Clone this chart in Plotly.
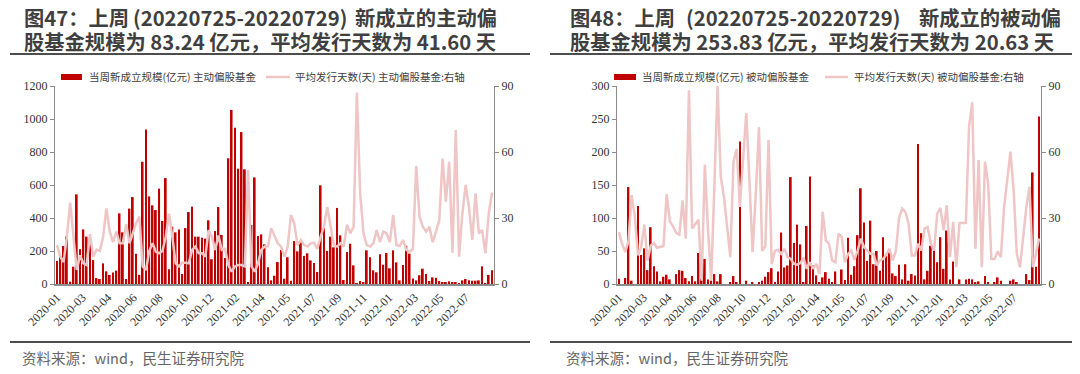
import numpy as np
import plotly.graph_objects as go

# ---------------- data ----------------
tick_labels = ["2020-01", "2020-03", "2020-04", "2020-06", "2020-08", "2020-10", "2020-12",
               "2021-02", "2021-04", "2021-05", "2021-07", "2021-09", "2021-11", "2022-01",
               "2022-03", "2022-05", "2022-07"]

active_scale = [140, 170, 230, 287, 14, 105, 543, 210, 331, 287, 242, 145, 36, 30, 125, 77, 55, 69, 81,
                428, 313, 30, 457, 527, 184, 55, 741, 937, 531, 477, 448, 578, 382, 642, 89, 347, 313,
                331, 61, 339, 436, 469, 287, 287, 280,
                275, 386, 150, 321, 467, 297, 158, 762, 1055, 947, 699, 921, 695, 10, 358, 646, 291,
                301, 240, 101, 22, 50, 133, 206, 32, 162, 20, 260, 198, 257, 170, 186, 143, 127, 73,
                598, 345, 200, 287, 222, 461, 295, 24, 194, 244,
                113, 5, 18, 10, 204, 162, 83, 71, 180, 117, 188, 95, 204, 131, 22, 115, 232, 184, 34,
                22, 53, 93, 61, 18, 40, 38, 18, 12, 10, 16, 10, 8, 5, 22, 30, 22, 20, 20, 22, 107, 5,
                55, 83.24]

active_days = [17.7, 12.4, 10, 21.5, 37, 20, 6.4, 13, 9.4, 8.6, 22.7, 12.4, 15.5, 15, 21.5, 34.4, 23.8,
               19, 23.8, 18.5, 18.5, 27.3, 18.5, 23, 27.6, 30.6, 8, 6.4, 15, 18.5, 14.7, 14, 15, 21.5,
               32, 21.5, 9.4, 8, 9.7, 9.7, 9.4, 15.5, 17, 14, 14,
               12.4, 24.5, 21.5, 15.5, 22, 15.5, 16, 8.6, 5.6, 8, 8.6, 8.6, 8, 51.8, 8, 5.6, 9.4, 15.5,
               17, 17, 25.3, 21.5, 18.5, 17, 12.4, 17, 31.4, 27.6, 17.7, 20, 17.7, 17, 18.5, 18.8, 16,
               21.5, 26, 35, 26, 17.7, 17, 18.5, 17, 27, 23,
               26, 87, 41, 23, 17.7, 17, 18.5, 24.5, 19, 23.8, 23, 19, 31.4, 17.7, 17.3, 20, 15.5, 14.7,
               16, 53.6, 30.6, 26, 23.8, 26, 19, 23.8, 29, 57, 37.4, 55.6, 14.2, 70, 12.4, 32, 45, 35,
               20, 41.2, 23, 24.5, 14, 32, 41.6]

passive_scale = [8, 0, 9, 147, 5, 0, 118, 44, 54, 21, 86, 27, 19, 4, 11, 14, 7, 0, 15, 21, 20, 9, 4, 12,
                 4, 47, 8, 38, 7, 5, 15, 4, 15, 0, 0, 2, 12, 3, 216, 0, 5, 0, 3, 0, 3,
                 5, 11, 18, 24, 2, 19, 78, 25, 28, 162, 62, 90, 60, 3, 88, 163, 28, 13, 3, 10, 18, 8,
                 2, 19, 0, 22, 6, 70, 14, 27, 74, 145, 93, 35, 96, 30, 50, 20, 71, 45, 53, 16, 12, 29,
                 7, 30, 5, 15, 13, 212, 77, 7, 20, 58, 51, 33, 71, 23, 81, 7, 34, 0, 7, 0, 7, 8, 7, 3,
                 4, 0, 12, 2, 0, 2, 10, 5, 0, 0, 5, 7, 2, 0, 0, 15, 6, 169, 26, 253.83]

passive_days = [23.6, 18.3, 14.5, 19.5, 40.4, 30.5, 13, 16.8, 27, 10.7, 17.5, 18.5, 16.5, 17, 17.3, 40.8,
                28.5, 26.2, 23.2, 22.4, 38, 20.6, 88, 25.2, 27.4, 29.2, 1.5, 54.3, 24.4, 2, 45, 90,
                48.8, 39.6, 26, 12.2, 55.6, 61.5, 35, 55, 77.7, 47, 14.5, 41, 71.3,
                15, 17, 65.5, 9, 15, 15.5, 13.7, 16, 12.2, 11.4, 9.1, 8.8, 9.5, 11.9, 6.9, 9.9, 6.9,
                9.1, 4.6, 32.8, 19.8, 18.3, 10.7, 9.9, 22.9, 21.3, 9.9, 13.7, 15.2, 11, 15.2, 20.6,
                16.8, 15.2, 13.7, 13.7, 8.4, 10.7, 11.4, 13.4, 16, 10.7, 15,
                30, 34.3, 32.8, 27.4, 13, 13, 18.3, 15.2, 25.2, 25.9, 18.3, 15.2, 32, 34.6, 24.4, 35.8,
                12.2, 28.2, 7.6, 27.7, 27.7, 27.7, 71.6, 82.6, 16, 56.4, 7.6, 55.6, 45.7, 11.4, 11.4,
                14.9, 12.2, 35, 47.3, 60.2, 42.7, 13.7, 7.6, 22.1, 35, 44.2, 7.6, 13.7, 20.63]

# title line 1 is split in three parts (justified in the original)
title1_left = ["图47：上周", "(20220725-20220729)", "新成立的主动偏"]
title2_left = "股基金规模为 83.24 亿元，平均发行天数为 41.60 天"
title1_right = ["图48：上周", "(20220725-20220729)", "新成立的被动偏"]
title2_right = "股基金规模为 253.83 亿元，平均发行天数为 20.63 天"
legend_left = ["当周新成立规模(亿元) 主动偏股基金", "平均发行天数(天) 主动偏股基金:右轴"]
legend_right = ["当周新成立规模(亿元) 被动偏股基金", "平均发行天数(天) 被动偏股基金:右轴"]
source_text = "资料来源：wind，民生证券研究院"

# ---------------- figure ----------------
W, H = 1080, 374
def px(x):
    return x / W
def py(y):
    return 1 - y / H

BAR = "#C00000"
LINE = "rgb(239,197,197)"
SERIF = "Liberation Serif"
CJK = "Noto Sans CJK SC"
AX = "#8c8c8c"

n = len(active_scale)
x = np.arange(n)
tickvals = np.linspace(0, 124, len(tick_labels))

fig = go.Figure()
fig.add_trace(go.Bar(x=x, y=active_scale, marker_color=BAR, marker_line_width=0,
                     name=legend_left[0], xaxis="x", yaxis="y", showlegend=False))
fig.add_trace(go.Scatter(x=x, y=active_days, mode="lines", line=dict(color=LINE, width=2.5),
                         name=legend_left[1], xaxis="x", yaxis="y2", showlegend=False))
fig.add_trace(go.Bar(x=x, y=passive_scale, marker_color=BAR, marker_line_width=0,
                     name=legend_right[0], xaxis="x2", yaxis="y3", showlegend=False))
fig.add_trace(go.Scatter(x=x, y=passive_days, mode="lines", line=dict(color=LINE, width=2.5),
                         name=legend_right[1], xaxis="x2", yaxis="y4", showlegend=False))

ydom = [py(284), py(86)]
tickfont = dict(family=SERIF, size=12, color="#333333")

def xaxis(dom, anchor):
    return dict(domain=dom, anchor=anchor, range=[-0.6, n - 0.4], tickmode="array",
                tickvals=tickvals, ticktext=tick_labels, tickangle=-45, tickfont=tickfont,
                showline=True, linecolor=AX, linewidth=1.5, ticks="", showgrid=False,
                zeroline=False, automargin=False)

def yaxis(side, rng, dtick, anchor, overlaying=None):
    d = dict(domain=ydom, anchor=anchor, side=side, range=rng, dtick=dtick, tickfont=tickfont,
             showline=True, linecolor=AX, linewidth=1.2, ticks="outside", ticklen=4,
             tickcolor=AX, showgrid=False, zeroline=False, automargin=False)
    if overlaying:
        d["overlaying"] = overlaying
    return d

fig.update_layout(
    width=W, height=H, margin=dict(l=0, r=0, t=0, b=0, autoexpand=False),
    paper_bgcolor="white", plot_bgcolor="white",
    bargap=0.45, barmode="group", showlegend=False,
    xaxis=xaxis([px(55), px(494)], "y"),
    yaxis=yaxis("left", [0, 1200], 200, "x"),
    yaxis2=yaxis("right", [0, 90], 30, "x", overlaying="y"),
    xaxis2=xaxis([px(617), px(1041)], "y3"),
    yaxis3=yaxis("left", [0, 300], 50, "x2"),
    yaxis4=yaxis("right", [0, 90], 30, "x2", overlaying="y3"),
)

titlefont = dict(family=CJK, size=20.3, color="#3f3f3f")
legfont = dict(family=CJK, size=10.5, color="#404040")
anns = []
shapes = []

def ann(text, x0, y0, xanchor, font):
    anns.append(dict(text=text, x=px(x0), y=py(y0), xref="paper", yref="paper",
                     xanchor=xanchor, yanchor="middle", showarrow=False, font=font))

panels = [
    dict(t1=title1_left, t2=title2_left, tx=22, par=(131, 348), tend=499, leg=legend_left,
         rect=(61, 82), legtxt1=87, line=(266, 290), legtxt2=293, src=20, rule=(10, 530)),
    dict(t1=title1_right, t2=title2_right, tx=568, par=(684, 901), tend=1063, leg=legend_right,
         rect=(614, 636), legtxt1=640, line=(825, 848), legtxt2=852, src=564, rule=(550, 1072)),
]
for p in panels:
    ann("<b>" + p["t1"][0] + "</b>", p["tx"], 17, "left", titlefont)
    ann("<b>" + p["t1"][1] + "</b>", (p["par"][0] + p["par"][1]) / 2, 17, "center", titlefont)
    ann("<b>" + p["t1"][2] + "</b>", p["tend"], 17, "right", titlefont)
    ann("<b>" + p["t2"] + "</b>", p["tx"], 41, "left", titlefont)
    ann(p["leg"][0], p["legtxt1"], 77, "left", legfont)
    ann(p["leg"][1], p["legtxt2"], 77, "left", legfont)
    ann(source_text, p["src"], 357, "left", dict(family=CJK, size=14.5, color="#666666"))
    shapes.append(dict(type="rect", xref="paper", yref="paper", x0=px(p["rect"][0]),
                       x1=px(p["rect"][1]), y0=py(80), y1=py(74), fillcolor=BAR, line_width=0))
    shapes.append(dict(type="line", xref="paper", yref="paper", x0=px(p["line"][0]),
                       x1=px(p["line"][1]), y0=py(77), y1=py(77),
                       line=dict(color=LINE, width=2.5)))
    for yy in (54, 342):
        shapes.append(dict(type="line", xref="paper", yref="paper", x0=px(p["rule"][0]),
                           x1=px(p["rule"][1]), y0=py(yy), y1=py(yy),
                           line=dict(color="#4d4d4d", width=2)))

fig.update_layout(annotations=anns, shapes=shapes)

fig.write_html("out.html", config={"displayModeBar": False},
               post_script="document.body.style.margin='0';")
